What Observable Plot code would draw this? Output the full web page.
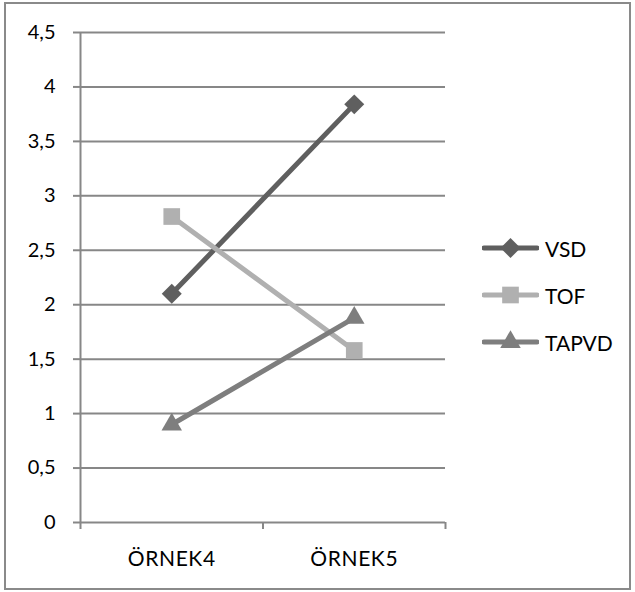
<!DOCTYPE html>
<html>
<head>
<meta charset="utf-8">
<script src="https://cdn.jsdelivr.net/npm/d3@7"></script>
<script src="https://cdn.jsdelivr.net/npm/@observablehq/plot@0.6"></script>
<style>
  html, body { margin: 0; padding: 0; background: #fff; }
  #wrap { position: relative; width: 635px; height: 592px; font-family: Lato, "DejaVu Sans", sans-serif; }
  #frame { position: absolute; left: 4px; top: 2px; width: 627px; height: 588px; box-sizing: border-box; border: 2px solid #8a8a8a; pointer-events: none; }
  #chart { position: absolute; left: 0; top: 0; }
  #legend { position: absolute; left: 482px; top: 0; }
  .item { position: absolute; left: 0; display: flex; align-items: center; height: 24px; white-space: nowrap; font-size: 21px; color: #000; }
  .item svg { margin-right: 6px; }
  .cat-labels text { letter-spacing: 0.6px; }
</style>
</head>
<body>
<div id="wrap">
  <div id="chart"></div>
  <div id="legend"></div>
  <div id="frame"></div>
</div>
<script>
// Categories on the horizontal axis
const categories = ["ÖRNEK4", "ÖRNEK5"];

// Series values, one per category
const seriesNames = ["VSD", "TOF", "TAPVD"];
const vsd = [2.1, 3.84];
const tof = [2.81, 1.58];
const tapvd = [0.9, 1.88];

// Vertical axis tick values
const yTicks = [0, 0.5, 1, 1.5, 2, 2.5, 3, 3.5, 4, 4.5];

const colors = {VSD: "#5f5f5f", TOF: "#b0b0b0", TAPVD: "#7e7e7e"};
const symbols = {VSD: "diamond2", TOF: "square", TAPVD: "triangle"};
const radii = {VSD: 9, TOF: 9.4, TAPVD: 7.6};

const valuesByName = {VSD: vsd, TOF: tof, TAPVD: tapvd};
// Each category sits in the middle of its own unit-wide slot
const rows = seriesNames.flatMap(name =>
  valuesByName[name].map((v, i) => ({series: name, x: i + 0.5, y: v}))
);
const slotEdges = d3.range(categories.length + 1);
const slotCenters = categories.map((c, i) => i + 0.5);
const comma = d => String(d).replace(".", ",");

const gridColor = "#878787";

const seriesMarks = seriesNames.flatMap(name => {
  const data = rows.filter(r => r.series === name);
  return [
    Plot.line(data, {x: "x", y: "y", stroke: colors[name], strokeWidth: 5, strokeLinejoin: "round"}),
    Plot.dot(data, {x: "x", y: "y", symbol: symbols[name], r: radii[name], fill: colors[name], stroke: "none"})
  ];
});

const chart = Plot.plot({
  width: 635,
  height: 592,
  marginLeft: 80,
  marginRight: 190,
  marginTop: 32,
  marginBottom: 70,
  style: {fontFamily: "Lato, 'DejaVu Sans', sans-serif", fontSize: "20px", color: "#000", background: "transparent"},
  x: {domain: [0, categories.length], axis: null},
  y: {domain: [0, 4.5], axis: null},
  marks: [
    Plot.ruleY(yTicks, {stroke: gridColor, strokeWidth: 2}),
    Plot.ruleX([0], {stroke: gridColor, strokeWidth: 2}),
    Plot.axisY({ticks: yTicks, tickSize: 7, tickPadding: 18, tickFormat: comma, stroke: gridColor, strokeWidth: 2, strokeOpacity: 1, label: null}),
    Plot.axisX({ticks: slotEdges, tickSize: 7, tickFormat: () => "", stroke: gridColor, strokeWidth: 2, strokeOpacity: 1, label: null}),
    Plot.axisX({ticks: slotCenters, tickSize: 0, tickPadding: 29, fontSize: 21, className: "cat-labels", tickFormat: d => categories[Math.floor(d)], label: null}),
    ...seriesMarks
  ]
});
document.getElementById("chart").appendChild(chart);

// Legend: line swatch with marker, then the series name
const legend = d3.select("#legend");
const legendTops = [236, 283, 330];
seriesNames.forEach((name, i) => {
  const item = legend.append("div").attr("class", "item").style("top", legendTops[i] + "px");
  const svg = item.append("svg").attr("width", 57).attr("height", 24);
  svg.append("line").attr("x1", 2).attr("x2", 55).attr("y1", 12).attr("y2", 12)
    .attr("stroke", colors[name]).attr("stroke-width", 5).attr("stroke-linecap", "round");
  const sym = {diamond2: d3.symbolDiamond2, square: d3.symbolSquare, triangle: d3.symbolTriangle}[symbols[name]];
  svg.append("path").attr("transform", "translate(28.5,12)")
    .attr("d", d3.symbol(sym, Math.PI * radii[name] * radii[name])())
    .attr("fill", colors[name]);
  item.append("span").text(name);
});
</script>
</body>
</html>
